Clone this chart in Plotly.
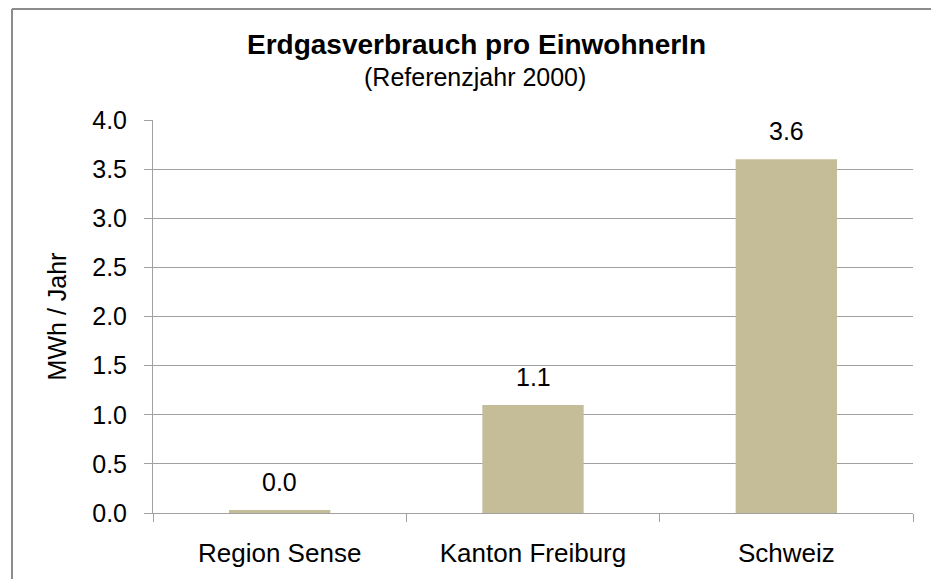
import plotly.graph_objects as go

categories = ["Region Sense", "Kanton Freiburg", "Schweiz"]
values = [0.03, 1.1, 3.6]
value_labels = ["0.0", "1.1", "3.6"]
title_text = "Erdgasverbrauch pro EinwohnerIn"
subtitle_text = "(Referenzjahr 2000)"
y_title = "MWh / Jahr"

FONT = "Liberation Sans, Arial, sans-serif"
# the page body has an 8px margin; the figure is sized/offset to fit the 939x587 window
OFF = 8
W, H = 939 - 2 * OFF, 587 - 2 * OFF
PL, PR, PT, PB = 153, 913, 120, 513  # plot area in window pixels
L, R, T, B = PL - OFF, W - (PR - OFF), PT - OFF, H - (PB - OFF)
PW, PH = W - L - R, H - T - B


def px_x(px):
    return (px - OFF - L) / PW


def px_y(py):
    return (H - B - (py - OFF)) / PH


fig = go.Figure(
    go.Bar(
        x=categories,
        y=values,
        marker=dict(color="#C4BD97", line=dict(width=0)),
        hoverinfo="skip",
    )
)

annotations = []
for c, v, t in zip(categories, values, value_labels):
    annotations.append(
        dict(x=c, y=v, xref="x", yref="y", text=t, showarrow=False,
             yanchor="bottom", yshift=12,
             font=dict(family=FONT, size=25, color="#000000"))
    )

annotations.append(
    dict(x=px_x(476.5), y=px_y(44), xref="paper", yref="paper",
         text="<b>" + title_text + "</b>", showarrow=False,
         xanchor="center", yanchor="middle",
         font=dict(family=FONT, size=28, color="#000000"))
)
annotations.append(
    dict(x=px_x(475), y=px_y(77), xref="paper", yref="paper",
         text=subtitle_text, showarrow=False,
         xanchor="center", yanchor="middle",
         font=dict(family=FONT, size=25, color="#000000"))
)

fig.update_layout(
    width=W, height=H,
    margin=dict(l=L, r=R, t=T, b=B, autoexpand=False),
    paper_bgcolor="white",
    plot_bgcolor="white",
    bargap=0.6,
    showlegend=False,
    font=dict(family=FONT, size=25, color="#000000"),
    annotations=annotations,
    shapes=[
        dict(type="line", xref="paper", yref="paper",
             x0=px_x(12), x1=px_x(960), y0=px_y(OFF + 1), y1=px_y(OFF + 1),
             line=dict(color="#8C8C8C", width=2)),
        dict(type="line", xref="paper", yref="paper",
             x0=px_x(12), x1=px_x(12), y0=px_y(OFF + 1), y1=px_y(620),
             line=dict(color="#8C8C8C", width=2)),
    ],
)

fig.update_xaxes(
    showline=True, linecolor="#A0A0A0", linewidth=1,
    ticks="outside", tickson="boundaries", ticklen=8, tickcolor="#A0A0A0",
    showgrid=False,
    ticklabelstandoff=17,
    tickfont=dict(family=FONT, size=26, color="#000000"),
)

fig.update_yaxes(
    range=[0, 4], dtick=0.5, tick0=0, tickformat=".1f",
    showline=True, linecolor="#A0A0A0", linewidth=1,
    ticks="outside", ticklen=8, tickcolor="#A0A0A0",
    showgrid=True, gridcolor="#A0A0A0", gridwidth=1,
    zeroline=False,
    ticklabelstandoff=12,
    tickfont=dict(family=FONT, size=25, color="#000000"),
    title=dict(text=y_title, standoff=18,
               font=dict(family=FONT, size=25, color="#000000")),
)

fig.write_html("out.html")
